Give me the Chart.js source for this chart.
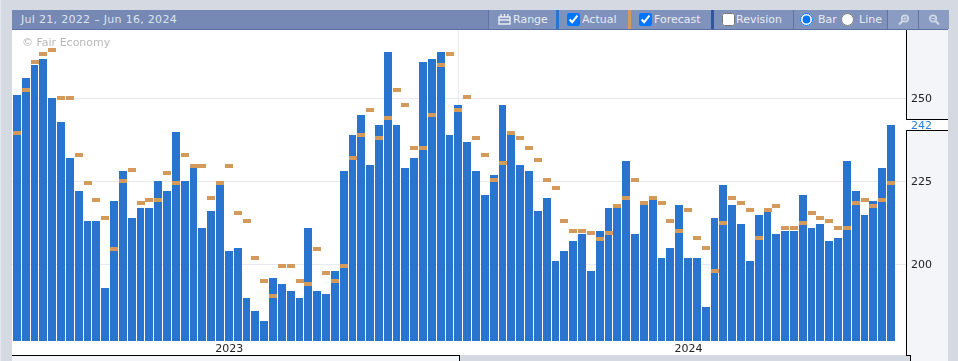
<!DOCTYPE html>
<html><head><meta charset="utf-8">
<script src="https://cdn.jsdelivr.net/npm/chart.js@4"></script>
<style>
html,body{margin:0;padding:0;width:958px;height:361px;overflow:hidden;background:#d5d9e2;font-family:"DejaVu Sans",sans-serif}
.a{position:absolute;box-sizing:border-box}
#hdr{left:12px;top:10px;width:936px;height:20px;background:#7589b4;border-bottom:1px solid #5b70a2;color:#e8ebf2;font-size:11px}
.sec{position:absolute;top:0;height:19px;line-height:19px;background:#7f92bb;border-left:1px solid #5f74a4;color:#e8ebf2;white-space:nowrap}
.sec span{position:absolute;top:0}
.sec input{position:absolute;margin:0;top:3px;width:13px;height:13px}
.stripe{position:absolute;top:0;height:19px;width:3px}
svg{position:absolute}
#wrap{left:12px;top:30px;width:936px;height:325px;background:#fff}
#axispanel{left:906px;top:30px;width:42px;height:331px;background:#f3f5f9}
#c{position:absolute;left:0;top:0}
#nav{left:12px;top:355px;width:448px;height:6px;background:#f3f5f9;border-top:1px solid #000;border-right:1px solid #000}
#corner{left:906px;top:355px;width:5px;height:6px;border-top:1px solid #000;border-right:1px solid #000;background:#d5d9e2}
#edge{left:0;top:0;width:1px;height:361px;background:#e4e6ec}
</style></head><body>
<div class="a" id="edge"></div>
<div class="a" id="hdr">
  <div style="position:absolute;left:9px;top:0;line-height:19px;color:#dfe3ec;letter-spacing:.3px">Jul 21, 2022 – Jun 16, 2024</div>
  <div class="sec" style="left:476px;width:68px">
    <svg style="left:9px;top:3px" width="13" height="12" viewBox="0 0 13 12"><path d="M1 4h11v7H1z M1 7h11" fill="none" stroke="#e8ebf2" stroke-width="1.4"/><path d="M3 1v3M6.5 1v3M10 1v3" stroke="#e8ebf2" stroke-width="1.4"/></svg>
    <span style="left:24px">Range</span></div>
  <div class="stripe" style="left:544px;background:#2874cf"></div>
  <div class="sec" style="left:547px;width:69px;border-left:0"><input type="checkbox" checked style="left:8px"><span style="left:23px">Actual</span></div>
  <div class="stripe" style="left:616px;background:#d49a5b"></div>
  <div class="sec" style="left:619px;width:80px;border-left:0"><input type="checkbox" checked style="left:8px"><span style="left:23px">Forecast</span></div>
  <div class="stripe" style="left:699px;background:#33559b"></div>
  <div class="sec" style="left:702px;width:79px;border-left:0"><input type="checkbox" style="left:8px"><span style="left:22px">Revision</span></div>
  <div class="sec" style="left:781px;width:94px">
    <input type="radio" name="m" checked style="left:6px"><span style="left:24px">Bar</span>
    <input type="radio" name="m" style="left:47px"><span style="left:65px">Line</span></div>
  <div class="sec" style="left:875px;width:31px;background:#8a9cc2">
    <svg style="left:10px;top:4px" width="12" height="12" viewBox="0 0 12 12"><circle cx="7" cy="4.5" r="3.2" fill="none" stroke="#cfd6e6" stroke-width="1.8"/><path d="M4.6 7L1 10.5" stroke="#cfd6e6" stroke-width="2.2"/><path d="M5.2 4.5h3.6M7 2.7v3.6" stroke="#cfd6e6" stroke-width="1"/></svg></div>
  <div class="sec" style="left:906px;width:30px;background:#8a9cc2">
    <svg style="left:9px;top:4px" width="12" height="12" viewBox="0 0 12 12"><circle cx="5" cy="4.5" r="3.2" fill="none" stroke="#cfd6e6" stroke-width="1.8"/><path d="M7.4 7L11 10.5" stroke="#cfd6e6" stroke-width="2.2"/><path d="M3.2 4.5h3.6" stroke="#cfd6e6" stroke-width="1"/></svg></div>
</div>
<div class="a" id="wrap"></div>
<div class="a" id="axispanel"></div>
<div class="a" id="nav"></div>
<div class="a" id="corner"></div>
<canvas id="c" width="958" height="361"></canvas>
<script>
const actualValues=[251,256,260,262,250,243,232,222,213,213,193,219,228,214,217,217,225,222,240,225,229,211,216,224,204,205,190,186,183,196,194,192,190,211,192,191,198,228,239,245,230,242,264,242,229,232,261,262,264,239,248,237,228,221,227,248,239,230,228,216,220,201,204,207,209,198,210,217,217,231,209,218,220,202,205,218,202,202,187,214,224,218,212,201,215,216,209,210,210,221,211,212,207,208,231,222,215,219,229,242];
const forecastValues=[239.5,252.5,261,263.5,264.5,250,250,233,224.5,219.5,214,204.5,225,228.5,218.5,219.5,219.5,227.5,224.5,233,229.5,229.5,220,224.5,229.5,215.5,213,202,195,190.5,199.5,199.5,195,194,204.5,197.5,195,199.5,232,239,246.5,238,244,252.5,248,235,235,245,260,263.5,246.5,250.5,238,233,225.5,230.5,239.5,238,235,231.5,225.5,223,213,210,210,209.5,207.5,209.5,217.5,220,225.5,218.5,220,218.5,213,210,216.5,208,205,198,212.5,220,218.5,216.5,208,216.5,217.5,211,211,212.5,215.5,214,213,211,211,218.5,219.5,217.5,219.5,224.5];
const yearLabels={24:"2023",76:"2024"};
const yTicks=[200,225,250];
const actualColor="#2874cf",forecastColor="#d49a5b",gridColor="#e8e9f2";

const mark=document.createElement("canvas");mark.width=8;mark.height=4;
const mc=mark.getContext("2d");mc.fillStyle=forecastColor;mc.fillRect(0,0,8,4);

const snap={id:"snap",afterDatasetsUpdate(ch){
  const step=ch.scales.x.getPixelForValue(1)-ch.scales.x.getPixelForValue(0);
  ch.getDatasetMeta(0).data.forEach(b=>{
    const l=Math.round(b.x-4.4),r=Math.round(b.x-4.4+step)-1;
    b.x=(l+r)/2;b.width=r-l;b.y=Math.round(b.y);b.base=Math.round(b.base);
  });
  ch.getDatasetMeta(1).data.forEach(p=>{
    p.x=Math.round(p.x-4.4)+4;p.y=Math.round(p.y-2)+2;
  });
}};
const lastTag={id:"lastTag",afterDraw(ch){
  const c=ch.ctx,v=actualValues[actualValues.length-1],y=Math.round(ch.scales.y.getPixelForValue(v));
  c.save();c.fillStyle="#fff";c.fillRect(906,y-6,42,11);
  c.fillStyle="#000";c.fillRect(906,y-6,42,1);c.fillRect(906,y+5,42,1);
  c.fillStyle="#2a7fe0";c.font='11px "DejaVu Sans"';c.textBaseline="middle";c.textAlign="left";
  c.fillText(String(v),911,y+1);
  c.fillStyle="#000";c.fillRect(906,30,1,y-36);c.fillRect(906,y+6,1,355-y-6);
  c.fillStyle="#b8b8b8";c.font='11px "DejaVu Sans"';c.fillText("© Fair Economy",22,43.5);
  c.restore();
}};
new Chart(document.getElementById("c"),{
  plugins:[snap,lastTag],
  data:{datasets:[
    {type:"bar",label:"Actual",order:2,backgroundColor:actualColor,barThickness:8,inflateAmount:0,borderWidth:0,
     data:actualValues.map((y,x)=>({x,y}))},
    {type:"line",label:"Forecast",order:1,showLine:false,pointStyle:mark,pointRadius:4,
     data:forecastValues.map((y,x)=>({x,y}))}
  ]},
  options:{
    responsive:false,animation:false,events:[],
    layout:{padding:{left:12,top:30,right:10,bottom:6}},
    plugins:{legend:{display:false},tooltip:{enabled:false}},
    scales:{
      x:{type:"linear",offset:false,min:-0.61,max:100.64,
        afterBuildTicks(s){s.ticks=Object.keys(yearLabels).map(k=>({value:+k}));},
        afterFit(s){s.height=14;},
        ticks:{autoSkip:false,maxRotation:0,padding:2,color:"#222",font:{family:"DejaVu Sans",size:11},callback:v=>yearLabels[v]||""},
        grid:{color:gridColor,drawTicks:false,lineWidth:1},border:{display:false}},
      y:{type:"linear",position:"right",min:176.9,max:270.6,
        afterBuildTicks(s){s.ticks=yTicks.map(value=>({value}));},
        afterFit(s){s.width=42;},
        ticks:{padding:5,labelOffset:1,color:"#222",font:{family:"DejaVu Sans",size:11},callback:v=>String(v)},
        grid:{color:gridColor,drawTicks:false,lineWidth:1},border:{display:false}}
    }
  }
});
</script>
</body></html>
